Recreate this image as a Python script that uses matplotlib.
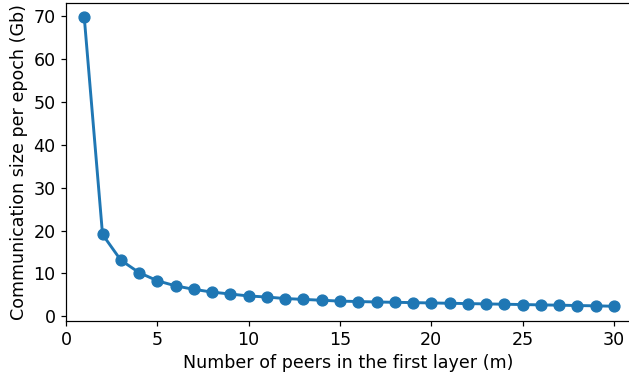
import matplotlib
matplotlib.use("Agg")
from matplotlib import pyplot as plt

# number of peers in the first layer
m = list(range(1, 31))
# communication size per epoch (Gb)
size_gb = [69.7, 19.1, 13.1, 10.2, 8.3, 7.1, 6.3, 5.65, 5.2, 4.75,
           4.5, 4.15, 3.95, 3.75, 3.55, 3.45, 3.35, 3.27, 3.2, 3.12,
           3.05, 2.97, 2.9, 2.82, 2.75, 2.67, 2.6, 2.52, 2.45, 2.35]

s = 1.1
plt.rcParams['font.size'] = 11.5 * s
plt.rcParams['axes.linewidth'] = 0.8 * s
plt.rcParams['xtick.major.width'] = 0.8 * s
plt.rcParams['ytick.major.width'] = 0.8 * s
plt.rcParams['xtick.major.size'] = 3.5 * s
plt.rcParams['ytick.major.size'] = 3.5 * s

fig = plt.figure(figsize=(6.29, 3.81), dpi=100)
ax = fig.add_axes([66/629, (381-320.7)/381, (631-66)/629, (320.7-3)/381])
ax.plot(m, size_gb, 'o-', color='#1f77b4', lw=2.1, ms=7.8)
ax.set_xlim(0, 30.93)
ax.set_xlabel('Number of peers in the first layer (m)')
ax.set_ylabel('Communication size per epoch (Gb)')

fig.savefig('out.png', dpi=100)
